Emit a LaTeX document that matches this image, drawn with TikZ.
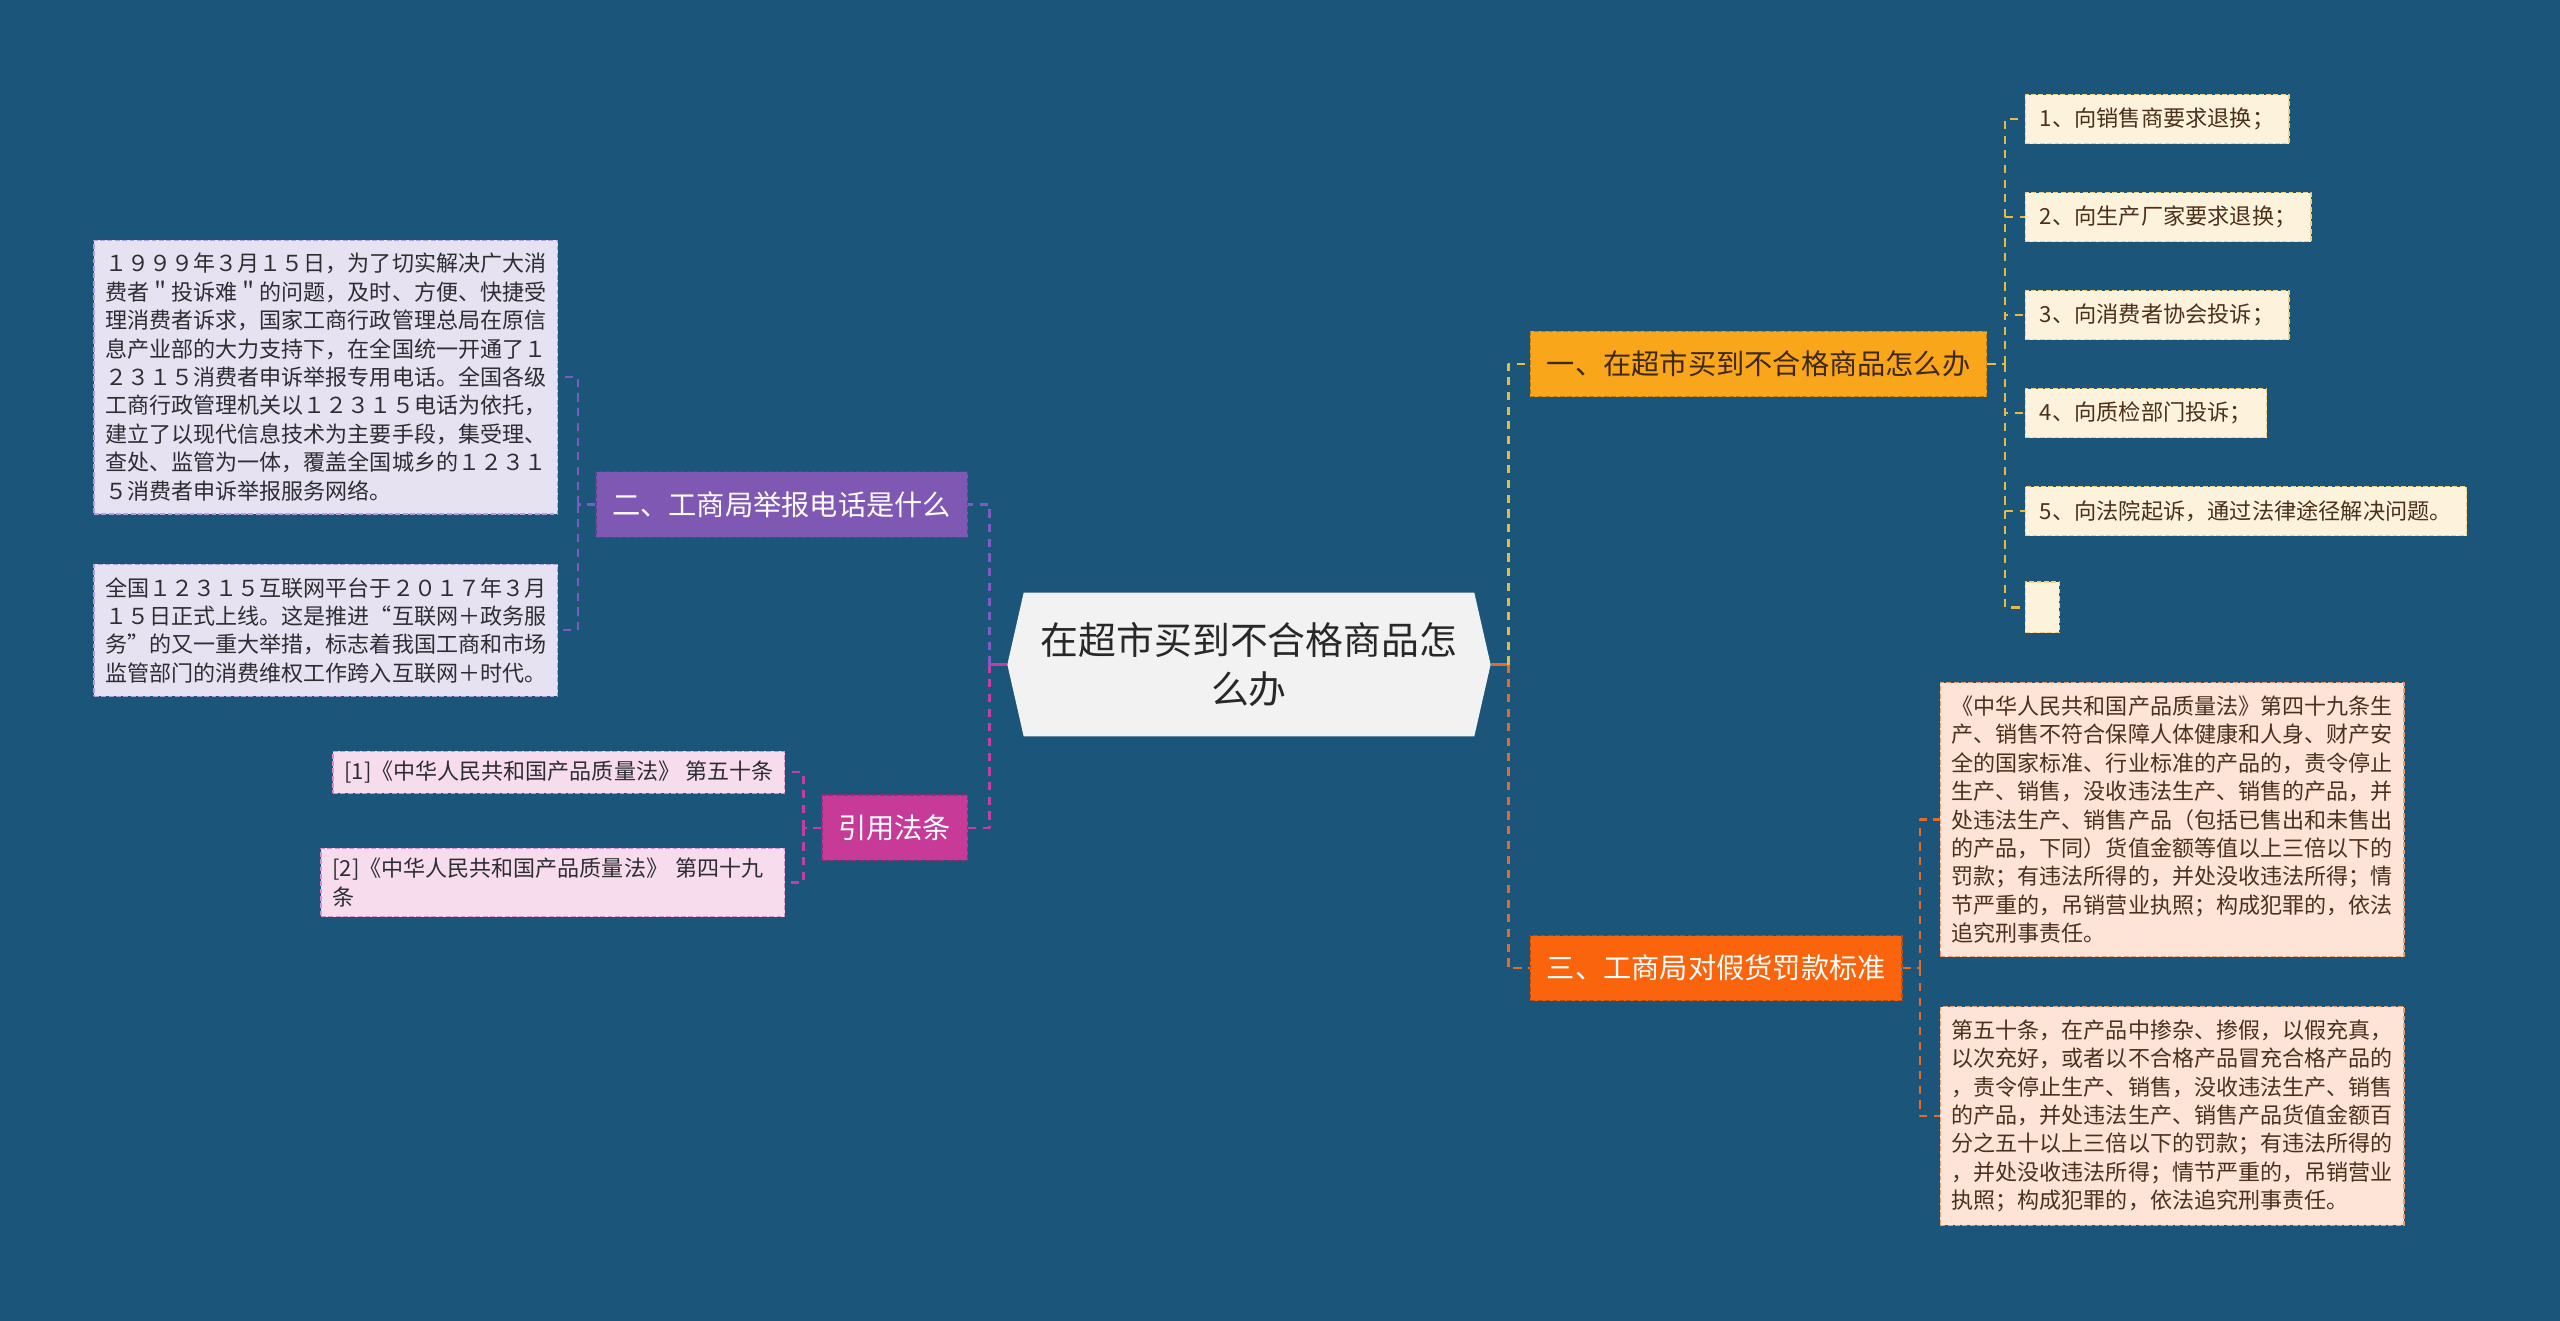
\documentclass[tikz,border=0pt]{standalone}
\usepackage{fontspec}
\setmainfont{Noto Sans CJK SC}
\definecolor{bgblue}{RGB}{27,85,121}
\definecolor{rootgray}{RGB}{242,242,242}
\definecolor{rootink}{RGB}{40,40,40}
\definecolor{yelnode}{RGB}{250,166,26}
\definecolor{yelink}{RGB}{60,40,20}
\definecolor{yelleaf}{RGB}{253,242,220}
\definecolor{yelline}{RGB}{232,186,62}
\definecolor{orgnode}{RGB}{250,100,12}
\definecolor{orgleaf}{RGB}{253,228,214}
\definecolor{orgline}{RGB}{228,106,40}
\definecolor{purnode}{RGB}{127,88,180}
\definecolor{purleaf}{RGB}{230,226,242}
\definecolor{purline}{RGB}{128,90,196}
\definecolor{magnode}{RGB}{200,58,152}
\definecolor{magleaf}{RGB}{246,220,236}
\definecolor{magline}{RGB}{196,62,160}
\definecolor{brownink}{RGB}{75,48,28}
\definecolor{grayink}{RGB}{45,45,50}
\begin{document}
\begin{tikzpicture}[
    x=1pt, y=-1pt,
    line join=round,
    root/.style={text=rootink, inner sep=0pt, align=center, font=\fontsize{23.2}{30}\selectfont},
    main/.style={draw, dash pattern=on 3pt off 1.5pt, line width=0.8pt, minimum height=40pt, inner xsep=10pt, inner ysep=0pt, font=\fontsize{17.3}{20}\selectfont},
    leaf/.style={draw, dash pattern=on 3pt off 1.5pt, line width=0.8pt, minimum height=30pt, inner xsep=9pt, inner ysep=0pt, font=\fontsize{13.6}{17}\selectfont},
    note/.style={draw, dash pattern=on 3pt off 1.5pt, line width=0.8pt, inner xsep=7pt, inner ysep=8pt, align=left, font=\fontsize{13.5}{17.4}\selectfont},
    link/.style={line width=1.5pt, dash pattern=on 5pt off 4pt},
    stub/.style={line width=2pt}
]
\useasboundingbox[fill=bgblue] (0,0) rectangle (1568,809);

% centre
\fill[rootgray] (617,407) -- (627,363) -- (903,363) -- (913,407) -- (903,451) -- (627,451) -- cycle;
\node[root] (root) at (765,407) {在超市买到不合格商品怎\\么办};
\coordinate (rootW) at (617,407);
\coordinate (rootE) at (913,407);
\coordinate (rootL) at (606,407);
\coordinate (rootR) at (924,407);

% right side
\node[main, anchor=west, fill=yelnode, draw=yelnode!75!black, text=yelink] (one) at (937,223) {一、在超市买到不合格商品怎么办};
\node[main, anchor=west, fill=orgnode, draw=orgnode!75!black, text=white] (three) at (937,593) {三、工商局对假货罚款标准};
\coordinate (oneJ) at (1228,223);
\coordinate (threeJ) at (1176,593);

\foreach \i/\y/\t in {1/73/{1、向销售商要求退换；}, 2/133/{2、向生产厂家要求退换；}, 3/193/{3、向消费者协会投诉；}, 4/253/{4、向质检部门投诉；}, 5/313/{5、向法院起诉，通过法律途径解决问题。}}
  \node[leaf, anchor=west, fill=yelleaf, draw=yelline!60!yelleaf, text=brownink] (one\i) at (1240,\y) {\t};
\node[leaf, anchor=west, fill=yelleaf, draw=yelline!60!yelleaf, minimum width=21pt, minimum height=31pt, inner sep=0pt] (one6) at (1240,372) {};

\node[note, anchor=west, fill=orgleaf, draw=orgline!60!orgleaf, text=brownink] (three1) at (1188,502) {《中华人民共和国产品质量法》第四十九条生\\产、销售不符合保障人体健康和人身、财产安\\全的国家标准、行业标准的产品的，责令停止\\生产、销售，没收违法生产、销售的产品，并\\处违法生产、销售产品（包括已售出和未售出\\的产品，下同）货值金额等值以上三倍以下的\\罚款；有违法所得的，并处没收违法所得；情\\节严重的，吊销营业执照；构成犯罪的，依法\\追究刑事责任。};
\node[note, anchor=west, fill=orgleaf, draw=orgline!60!orgleaf, text=brownink] (three2) at (1188,683.5) {第五十条，在产品中掺杂、掺假，以假充真，\\以次充好，或者以不合格产品冒充合格产品的\\，责令停止生产、销售，没收违法生产、销售\\的产品，并处违法生产、销售产品货值金额百\\分之五十以上三倍以下的罚款；有违法所得的\\，并处没收违法所得；情节严重的，吊销营业\\执照；构成犯罪的，依法追究刑事责任。};

% left side
\node[main, anchor=east, fill=purnode, draw=purnode!75!black, text=white] (two) at (593,309) {二、工商局举报电话是什么};
\node[main, anchor=east, fill=magnode, draw=magnode!75!black, text=white] (cite) at (593,507) {引用法条};
\coordinate (twoJ) at (354,309);
\coordinate (citeJ) at (492,507);

\node[note, anchor=east, fill=purleaf, draw=purline!50!purleaf, text=grayink] (two1) at (342,231) {１９９９年３月１５日，为了切实解决广大消\\费者＂投诉难＂的问题，及时、方便、快捷受\\理消费者诉求，国家工商行政管理总局在原信\\息产业部的大力支持下，在全国统一开通了１\\２３１５消费者申诉举报专用电话。全国各级\\工商行政管理机关以１２３１５电话为依托，\\建立了以现代信息技术为主要手段，集受理、\\查处、监管为一体，覆盖全国城乡的１２３１\\５消费者申诉举报服务网络。};
\node[note, anchor=east, fill=purleaf, draw=purline!50!purleaf, text=grayink] (two2) at (342,386) {全国１２３１５互联网平台于２０１７年３月\\１５日正式上线。这是推进“互联网＋政务服\\务”的又一重大举措，标志着我国工商和市场\\监管部门的消费维权工作跨入互联网＋时代。};

\node[note, anchor=east, fill=magleaf, draw=magline!50!magleaf, text=grayink, inner ysep=6pt] (cite1) at (481,473) {[1]《中华人民共和国产品质量法》 第五十条};
\node[note, anchor=east, fill=magleaf, draw=magline!50!magleaf, text=grayink, inner ysep=6pt, text width=270pt] (cite2) at (481,540.5) {[2]《中华人民共和国产品质量法》 第四十九\\条};

% connectors
\draw[stub, orgline] (rootE) -- (rootR);
\draw[stub, magline] (rootW) -- (rootL);
\draw[link, yelline] (rootR) |- (one.west);
\draw[link, orgline] (rootR) |- (three.west);
\draw[link, purline] (rootL) |- (two.east);
\draw[link, magline] (rootL) |- (cite.east);

\draw[link, yelline] (one.east) -- (oneJ);
\foreach \i in {1,...,6}
  \draw[link, yelline] (oneJ) |- (one\i.west);
\draw[link, orgline] (three.east) -- (threeJ);
\foreach \i in {1,2}
  \draw[link, orgline] (threeJ) |- (three\i.west);
\draw[link, purline] (two.west) -- (twoJ);
\foreach \i in {1,2}
  \draw[link, purline] (twoJ) |- (two\i.east);
\draw[link, magline] (cite.west) -- (citeJ);
\foreach \i in {1,2}
  \draw[link, magline] (citeJ) |- (cite\i.east);

\end{tikzpicture}
\end{document}
